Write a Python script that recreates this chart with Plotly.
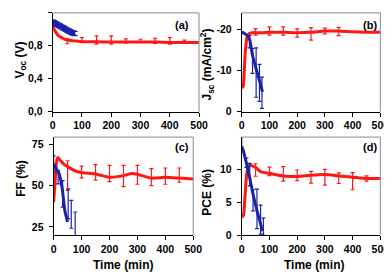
import plotly.graph_objects as go

W, H = 392, 272
RED = "#ff1616"
BLUE = "#1a23a6"
FONT = "Liberation Sans, Arial, sans-serif"

# ---------------- data ----------------
# (a) Voc
red_a_t = [0, 5, 10, 20, 30, 40, 50, 75, 100, 150, 200, 250, 300, 350, 400, 450, 500]
red_a_v = [1.04, 1.0, 0.97, 0.92, 0.9, 0.88, 0.87, 0.86, 0.85, 0.85, 0.845, 0.845, 0.845, 0.845, 0.84, 0.84, 0.84]
red_a_et = [50, 100, 150, 200, 250, 300, 350, 400, 450]
red_a_ev = [0.855, 0.87, 0.87, 0.87, 0.86, 0.86, 0.86, 0.86, 0.85]
red_a_ee = [0.03, 0.03, 0.05, 0.05, 0.025, 0.02, 0.03, 0.04, 0.02]
blue_a_t = [0, 5, 10, 15, 20, 25, 30, 35, 40, 45, 50, 55, 60, 65, 70, 75]
blue_a_v = [1.09, 1.08, 1.07, 1.06, 1.05, 1.04, 1.03, 1.02, 1.01, 1.0, 0.99, 0.98, 0.97, 0.96, 0.955, 0.95]
blue_a_e = [0.025] * 16

# (b) Jsc
red_b_t = [0, 3, 6, 9, 13, 19, 25, 30, 40, 50, 75, 100, 150, 200, 250, 300, 350, 400, 450, 500]
red_b_v = [-5.9, -5.9, -6.4, -9.6, -14.5, -18.1, -18.8, -19.1, -19.2, -19.2, -19.2, -19.3, -19.3, -19.2, -19.3, -19.6, -19.6, -19.4, -19.3, -19.3]
red_b_et = [50, 100, 150, 200, 250, 300, 350]
red_b_ev = [-19.4, -19.6, -19.6, -19.1, -18.9, -19.6, -19.5]
red_b_ee = [0.8, 1.0, 1.0, 1.0, 1.5, 0.7, 1.0]
blue_b_t = [0, 10, 20, 28, 39, 52, 64, 75]
blue_b_v = [-19.3, -19.0, -18.5, -17.7, -13.7, -10.4, -7.6, -4.8]
blue_b_et = [28, 39, 52, 64, 73]
blue_b_ev = [-17.0, -12.3, -9.5, -7.0, -4.6]
blue_b_ee = [1.5, 3.0, 6.0, 4.5, 3.8]

# (c) FF
red_c_t = [0, 5, 10, 15, 20, 30, 40, 50, 75, 100, 150, 200, 250, 280, 300, 350, 400, 450, 500]
red_c_v = [40, 52, 64, 67, 66, 64, 62.5, 61.5, 59, 57.8, 57, 55, 56, 57.3, 56.8, 54.5, 55, 54.5, 54]
red_c_et = [50, 100, 150, 200, 250, 300, 350, 400, 450]
red_c_ev = [56, 58.2, 58, 57.3, 55.8, 56.5, 55.1, 55.7, 56.3]
red_c_ee = [9, 3.5, 4.7, 4.9, 6.4, 5.7, 5.1, 4.9, 4.3]
blue_c_t = [0, 10, 20, 30, 40, 50]
blue_c_v = [63, 60, 57, 49, 35, 28]
blue_c_et = [0, 16, 32, 52, 63, 77]
blue_c_ev = [63, 55, 45, 39, 32.6, 20]
blue_c_ee = [5, 4, 8, 9, 8.4, 14]

# (d) PCE
red_d_t = [0, 5, 8, 12, 16, 20, 28, 40, 50, 70, 100, 150, 200, 250, 300, 350, 400, 450, 500]
red_d_v = [2.8, 2.9, 3.5, 6.0, 8.4, 9.8, 10.6, 10.5, 10.3, 9.6, 9.4, 9.0, 8.9, 9.1, 9.2, 9.0, 8.8, 8.6, 8.6]
red_d_et = [50, 100, 150, 200, 250, 300, 350, 400, 450]
red_d_ev = [9.9, 9.7, 9.3, 9.1, 8.8, 8.8, 8.65, 8.2, 8.6]
red_d_ee = [0.95, 0.65, 1.1, 0.8, 0.9, 1.2, 0.8, 1.3, 0.4]
blue_d_t = [0, 5, 15, 28, 40, 54, 65, 75]
blue_d_v = [13.5, 12.9, 11.3, 8.9, 6.4, 3.9, 2.2, 0.6]
blue_d_et = [0, 17, 29, 41, 55, 68, 78]
blue_d_ev = [14.0, 11.0, 9.2, 5.3, 4.0, 2.35, 1.3]
blue_d_ee = [1.2, 0.7, 1.7, 1.6, 3.0, 2.2, 1.3]

x_ticks = [0, 100, 200, 300, 400, 500]

# ---------------- figure ----------------
fig = go.Figure()


def line(t, v, color, ax):
    fig.add_trace(go.Scatter(x=t, y=v, mode="lines", line=dict(color=color, width=3, shape="spline", smoothing=0.6),
                             xaxis="x" + ax, yaxis="y" + ax, showlegend=False, hoverinfo="skip"))


def errs(t, v, e, color, ax):
    fig.add_trace(go.Scatter(x=t, y=v, mode="markers", marker=dict(size=1, color="rgba(0,0,0,0)"),
                             error_y=dict(type="data", array=e, visible=True, color=color, thickness=1.2, width=2),
                             xaxis="x" + ax, yaxis="y" + ax, showlegend=False, hoverinfo="skip"))


line(red_a_t, red_a_v, RED, "")
errs(red_a_et, red_a_ev, red_a_ee, RED, "")
fig.add_trace(go.Scatter(x=blue_a_t, y=blue_a_v, mode="lines", line=dict(color=BLUE, width=2),
                         error_y=dict(type="data", array=blue_a_e, visible=True, color=BLUE, thickness=1.3, width=3),
                         xaxis="x", yaxis="y", showlegend=False, hoverinfo="skip"))

line(red_b_t, red_b_v, RED, "2")
errs(red_b_et, red_b_ev, red_b_ee, RED, "2")
line(blue_b_t, blue_b_v, BLUE, "2")
errs(blue_b_et, blue_b_ev, blue_b_ee, BLUE, "2")

line(red_c_t, red_c_v, RED, "3")
errs(red_c_et, red_c_ev, red_c_ee, RED, "3")
line(blue_c_t, blue_c_v, BLUE, "3")
errs(blue_c_et, blue_c_ev, blue_c_ee, BLUE, "3")

line(red_d_t, red_d_v, RED, "4")
errs(red_d_et, red_d_ev, red_d_ee, RED, "4")
line(blue_d_t, blue_d_v, BLUE, "4")
errs(blue_d_et, blue_d_ev, blue_d_ee, BLUE, "4")

tickfont = dict(family=FONT, size=10.5, color="black", weight="bold")


def px_x(p):
    return p / W


def px_y(p):
    return 1 - p / H


def xax(dom, anchor):
    return dict(domain=dom, anchor=anchor, range=[0, 500], tickvals=x_ticks, ticks="outside", ticklen=4,
                tickwidth=1, tickcolor="black", showline=True, linecolor="black", linewidth=1, showgrid=False,
                zeroline=False, tickfont=tickfont, ticklabelstandoff=0)


def yax(dom, anchor, rng, tv, tt):
    return dict(domain=dom, anchor=anchor, range=rng, tickvals=tv, ticktext=tt, ticks="outside", ticklen=4,
                tickwidth=1, tickcolor="black", showline=True, linecolor="black", linewidth=1, showgrid=False,
                zeroline=False, tickfont=tickfont, ticklabelstandoff=3)


dx_l = [px_x(43), px_x(194)]
dx_r = [px_x(238), px_x(381)]
dx_lc = [px_x(44), px_x(188)]
dy_t = [px_y(106), px_y(5)]
dy_b = [px_y(232.3), px_y(132)]

fig.update_layout(
    width=W, height=H, margin=dict(l=0, r=0, t=0, b=0),
    paper_bgcolor="white", plot_bgcolor="white",
    xaxis=xax(dx_l, "y"),
    yaxis=yax(dy_t, "x", [0, 1.2], [0, 0.4, 0.8, 1.2], ["0,0", "0,4", "0,8", "1,2"]),
    xaxis2=xax(dx_r, "y2"),
    yaxis2=yax(dy_t, "x2", [0, -24], [0, -10, -20], ["0", "-10", "-20"]),
    xaxis3=xax(dx_lc, "y3"),
    yaxis3=yax(dy_b, "x3", [20, 79.3], [25, 50, 75], ["25", "50", "75"]),
    xaxis4=xax(dx_r, "y4"),
    yaxis4=yax(dy_b, "x4", [0, 14.9], [0, 5, 10], ["0", "5", "10"]),
)

# gray top/right frame lines
for ax in ["", "2", "3", "4"]:
    xr, yr = "x" + ax + " domain", "y" + ax + " domain"
    fig.add_shape(type="line", xref=xr, yref=yr, x0=0, x1=1, y0=1, y1=1, line=dict(color="#8a8a8a", width=1))
    fig.add_shape(type="line", xref=xr, yref=yr, x0=1, x1=1, y0=0, y1=1, line=dict(color="#8a8a8a", width=1))

titlefont = dict(family=FONT, size=12, color="black", weight="bold")
labfont = dict(family=FONT, size=11, color="black", weight="bold")


def ann(text, x, y, font, angle=0, xanchor="center"):
    fig.add_annotation(text=text, xref="paper", yref="paper", x=px_x(x), y=px_y(y), showarrow=False,
                       font=font, textangle=angle, xanchor=xanchor, yanchor="middle")


ann("V<sub>oc</sub> (V)", 10, 53, titlefont, -90)
ann("J<sub>sc</sub> (mA/cm<sup>2</sup>)", 202, 58, titlefont, -90)
ann("FF (%)", 10, 174, titlefont, -90)
ann("PCE (%)", 202, 188, titlefont, -90)
ann("Time (min)", 115.5, 263, titlefont)
ann("Time (min)", 313, 263, titlefont)
ann("(a)", 186, 17.5, labfont, xanchor="right")
ann("(b)", 380, 17.5, labfont, xanchor="right")
ann("(c)", 186, 142.5, labfont, xanchor="right")
ann("(d)", 380, 142.5, labfont, xanchor="right")

fig.write_html("out.html")
